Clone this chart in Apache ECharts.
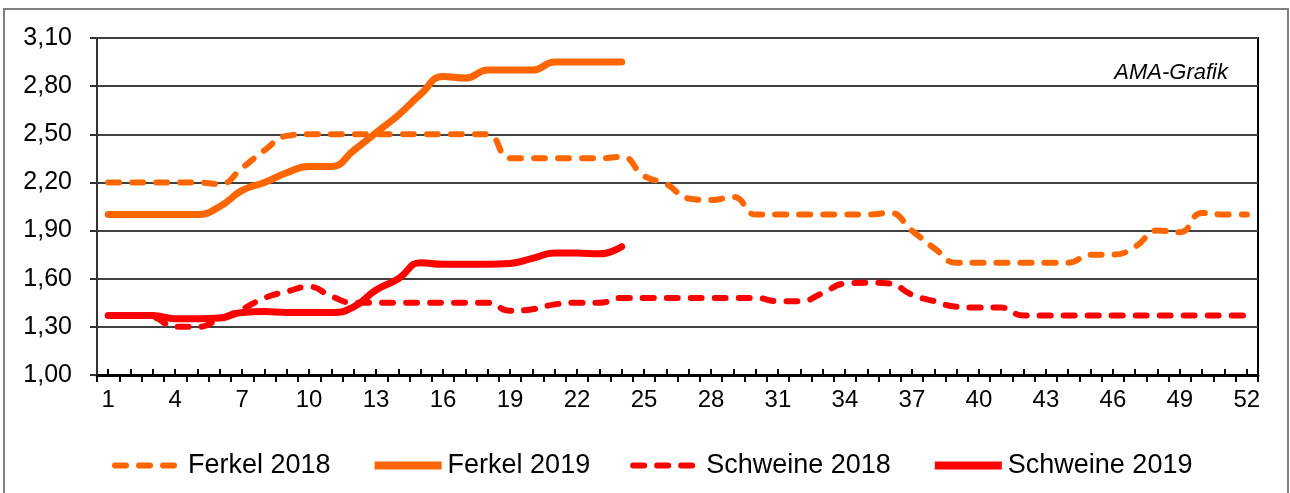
<!DOCTYPE html>
<html>
<head>
<meta charset="utf-8">
<script src="https://cdn.jsdelivr.net/npm/echarts@6/dist/echarts.min.js"></script>
<style>html,body{margin:0;padding:0;background:#fff;}#c{width:1290px;height:493px;}</style>
</head>
<body>
<div id="c"></div>
<script>
const weeks = Array.from({length: 52}, (_, i) => String(i + 1));
const seriesNames = ['Ferkel 2018', 'Ferkel 2019', 'Schweine 2018', 'Schweine 2019'];
const ferkel2018 = [2.20,2.20,2.20,2.20,2.20,2.19,2.29,2.40,2.49,2.50,2.50,2.50,2.50,2.50,2.50,2.50,2.50,2.50,2.35,2.35,2.35,2.35,2.35,2.36,2.24,2.19,2.10,2.09,2.11,2.00,2.00,2.00,2.00,2.00,2.00,2.01,1.90,1.79,1.70,1.70,1.70,1.70,1.70,1.70,1.75,1.75,1.80,1.90,1.89,2.01,2.00,2.00];
const ferkel2019 = [2.00,2.00,2.00,2.00,2.00,2.05,2.15,2.20,2.26,2.30,2.30,2.40,2.51,2.62,2.75,2.86,2.85,2.90,2.90,2.90,2.95,2.95,2.95,2.95];
const schweine2018 = [1.37,1.37,1.36,1.30,1.30,1.35,1.41,1.48,1.52,1.55,1.49,1.45,1.45,1.45,1.45,1.45,1.45,1.45,1.40,1.41,1.44,1.45,1.45,1.48,1.48,1.48,1.48,1.48,1.48,1.48,1.46,1.46,1.51,1.57,1.575,1.57,1.50,1.46,1.425,1.42,1.42,1.37,1.37,1.37,1.37,1.37,1.37,1.37,1.37,1.37,1.37,1.37];
const schweine2019 = [1.37,1.37,1.37,1.35,1.35,1.355,1.39,1.395,1.39,1.39,1.39,1.425,1.53,1.60,1.70,1.69,1.69,1.69,1.695,1.727,1.76,1.76,1.755,1.80];
const yTicks = {min: 1.0, max: 3.1, interval: 0.3};

const ORANGE = '#FF6600', RED = '#FF0000';
const dash = [11, 13];
const colors = [ORANGE, ORANGE, RED, RED];
const dashed = [true, false, true, false];
const chart = echarts.init(document.getElementById('c'));
const font = 'Liberation Sans, Arial, sans-serif';
chart.setOption({
  animation: false,
  textStyle: {fontFamily: font},
  title: {
    text: 'AMA-Grafik', right: 57, top: 57,
    textStyle: {fontFamily: font, fontStyle: 'italic', fontWeight: 'normal', fontSize: 22, color: '#000'}
  },
  graphic: [{
    type: 'rect', silent: true, z: -1,
    shape: {x: 4, y: 9, width: 1284, height: 495},
    style: {fill: 'none', stroke: '#7f7f7f', lineWidth: 2}
  }],
  grid: {left: 97, right: 32, top: 38, bottom: 118, show: true, borderColor: '#000', borderWidth: 2, backgroundColor: 'transparent'},
  legend: {
    data: seriesNames.map((n, i) => ({
      name: n,
      lineStyle: {color: colors[i], width: dashed[i] ? 6 : 8, type: dashed[i] ? [11, 13] : 'solid', cap: dashed[i] ? 'round' : 'butt'}
    })),
    left: 107, top: 447,
    itemWidth: 67, itemHeight: 14, itemGap: 40,
    textStyle: {fontFamily: font, fontSize: 27, color: '#000', padding: [0, 0, 0, 1]},
    itemStyle: {opacity: 0}
  },
  xAxis: [{
    type: 'category', data: weeks, boundaryGap: true,
    axisLine: {lineStyle: {color: '#000', width: 3}},
    axisTick: {show: true, interval: 0, length: 7, lineStyle: {color: '#000', width: 2}},
    axisLabel: {interval: 2, fontSize: 24, color: '#000', margin: 13, fontFamily: font},
    splitLine: {show: false}
  }, {
    type: 'category', data: weeks, boundaryGap: true, position: 'bottom',
    axisLine: {show: false},
    axisTick: {show: true, interval: 0, alignWithLabel: true, inside: true, length: 6, lineStyle: {color: '#000', width: 2}},
    axisLabel: {show: false},
    splitLine: {show: false}
  }],
  yAxis: {
    type: 'value', min: yTicks.min, max: yTicks.max, interval: yTicks.interval,
    axisLine: {show: true, lineStyle: {color: '#333', width: 2}},
    axisTick: {show: true, length: 7, lineStyle: {color: '#333', width: 2}},
    axisLabel: {fontSize: 25, color: '#000', margin: 25, fontFamily: font,
      formatter: v => v.toFixed(2).replace('.', ',')},
    splitLine: {show: true, lineStyle: {color: '#404040', width: 2}}
  },
  series: [
    {name: seriesNames[0], type: 'line', data: ferkel2018, smooth: 0.5, symbol: 'none', z: 3,
     lineStyle: {color: ORANGE, width: 6, type: dash, cap: 'round'}, itemStyle: {color: ORANGE}},
    {name: seriesNames[1], type: 'line', data: ferkel2019, smooth: 0.5, symbol: 'none', z: 4,
     lineStyle: {color: ORANGE, width: 7, cap: 'round'}, itemStyle: {color: ORANGE}},
    {name: seriesNames[2], type: 'line', data: schweine2018, smooth: 0.5, symbol: 'none', z: 3,
     lineStyle: {color: RED, width: 6, type: dash, cap: 'round'}, itemStyle: {color: RED}},
    {name: seriesNames[3], type: 'line', data: schweine2019, smooth: 0.5, symbol: 'none', z: 4,
     lineStyle: {color: RED, width: 7, cap: 'round'}, itemStyle: {color: RED}}
  ]
});
</script>
</body>
</html>
